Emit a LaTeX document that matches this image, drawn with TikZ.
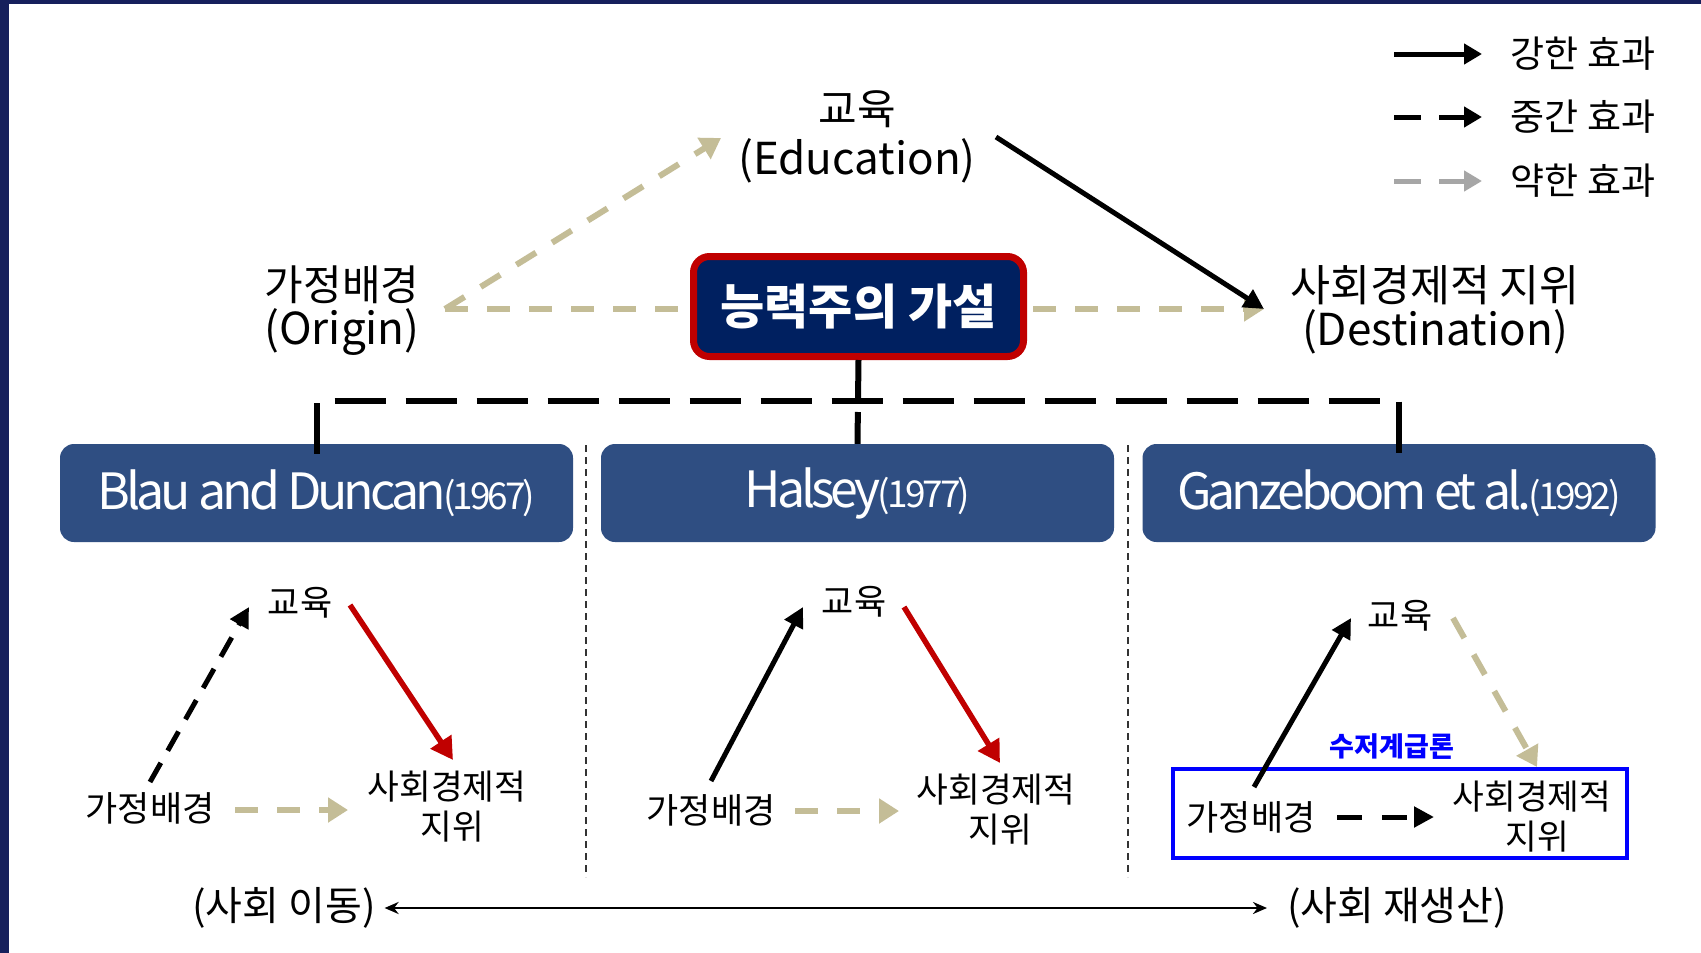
\documentclass[tikz,border=0pt]{standalone}
\usepackage{fontspec}
\setmainfont{Noto Sans CJK KR}
\usetikzlibrary{arrows.meta}
\definecolor{navyband}{RGB}{22,32,92}
\definecolor{boxnavy}{RGB}{0,32,96}
\definecolor{boxred}{RGB}{192,0,0}
\definecolor{titleblue}{RGB}{47,78,130}
\definecolor{weakc}{RGB}{196,189,151}
\definecolor{legendgray}{RGB}{166,166,166}
\definecolor{markblue}{RGB}{0,0,255}
\definecolor{redarrow}{RGB}{192,0,0}
\newcommand{\fsz}[1]{\fontsize{#1}{#1}\selectfont}
\tikzset{
  lbl/.style={inner sep=0pt, outer sep=0pt, align=center, text=black},
  strongarrow/.style={draw=black, line width=5pt, -{Triangle[length=20pt,width=20pt]}},
  midarrow/.style={draw=black, line width=5pt, dash pattern=on 22pt off 14pt, -{Triangle[length=20pt,width=20pt]}},
  weakarrow/.style={draw=weakc, line width=6pt, dash pattern=on 23pt off 19pt, -{Triangle[length=20pt,width=24pt]}},
  redstrong/.style={draw=redarrow, line width=5.5pt, -{Triangle[length=22pt,width=24pt]}},
  titlebox/.style={fill=titleblue, rounded corners=14pt, minimum width=513pt, minimum height=98pt, inner sep=0pt, text=white},
  sepline/.style={draw=black!80, line width=1.5pt, dash pattern=on 7pt off 5pt},
}
\newcommand{\ttl}[2]{{\fsz{50}\addfontfeatures{LetterSpace=-8}#1\kern-3pt\fsz{37}#2}}
\begin{document}
\begin{tikzpicture}[x=1pt,y=-1pt]
\useasboundingbox (0,0) rectangle (1701,953);
\fill[white] (0,0) rectangle (1701,953);
\fill[navyband] (0,0) rectangle (8.5,953);
\fill[navyband] (0,0) rectangle (1701,3.5);

% ---------- legend ----------
\coordinate (lg1a) at (1394,54);  \coordinate (lg1b) at (1482,54);
\coordinate (lg2a) at (1394,117); \coordinate (lg2b) at (1482,117);
\coordinate (lg3a) at (1394,181); \coordinate (lg3b) at (1482,181);
\draw[draw=black, line width=5pt, -{Triangle[length=18pt,width=20pt]}] (lg1a) -- (lg1b);
\draw[draw=black, line width=5pt, dash pattern=on 27pt off 18pt, -{Triangle[length=18pt,width=20pt]}] (lg2a) -- (lg2b);
\draw[draw=legendgray, line width=5pt, dash pattern=on 27pt off 18pt, -{Triangle[length=18pt,width=20pt]}] (lg3a) -- (lg3b);
\node[lbl, font=\fsz{37}] (lgt1) at (1583,54) {강한 효과};
\node[lbl, font=\fsz{37}] (lgt2) at (1583,117) {중간 효과};
\node[lbl, font=\fsz{37}] (lgt3) at (1583,181) {약한 효과};

% ---------- top diagram ----------
\node[lbl, font=\fsz{42}] (edu1) at (857,109) {교육};
\node[lbl, font=\fsz{44}] (edu2) at (857,161) {(Education)};
\node[lbl, font=\fsz{42}] (org1) at (342,285) {가정배경};
\node[lbl, font=\fsz{44}] (org2) at (342,332) {(Origin)};
\node[lbl, font=\fsz{43.5}] (dst1) at (1435,285) {사회경제적 지위};
\node[lbl, font=\fsz{44}] (dst2) at (1435,332) {(Destination)};

\coordinate (oR) at (445,309);
\coordinate (dL) at (1264,309);
\coordinate (eL) at (721,138);
\coordinate (eR) at (996,137);
\draw[weakarrow] (oR) -- (dL);
\draw[weakarrow] (oR) -- (eL);
\draw[strongarrow] (eR) -- (dL);

\node[draw=boxred, line width=7pt, fill=boxnavy, rounded corners=16pt,
      minimum width=330pt, minimum height=100pt, inner sep=0pt,
      text=white, font=\fsz{48}\bfseries] (hyp) at (858.5,306.5) {능력주의 가설};

% ---------- tree ----------
\node[titlebox] (t1) at (316.5,493) {\ttl{Blau and Duncan}{(1967)}};
\node[titlebox] (t2) at (857.5,493) {\ttl{Halsey}{(1977)}};
\node[titlebox] (t3) at (1399,493) {\ttl{Ganzeboom et al.}{(1992)}};

\coordinate (jn) at (858,401);
\coordinate (jl) at (316.5,401);
\coordinate (jr) at (1399,401);
\draw[line width=6pt] (hyp.south) -- (jn);
\draw[line width=6pt, dash pattern=on 51pt off 20pt] ([yshift=-10pt]t1.north) -- (jl) -- (jr) -- ([yshift=-10pt]t3.north);
\draw[line width=6pt, dash pattern=on 51pt off 20pt, dash phase=60pt] (jn) -- (t2.north);

\coordinate (s1a) at (586,445); \coordinate (s1b) at (586,877);
\coordinate (s2a) at (1128,445); \coordinate (s2b) at (1128,877);
\draw[sepline] (s1a) -- (s1b);
\draw[sepline] (s2a) -- (s2b);

% ---------- left small diagram ----------
\node[lbl, font=\fsz{35}] (Ledu) at (300,603) {교육};
\node[lbl, font=\fsz{35}] (Lorg) at (150,808) {가정배경};
\node[lbl, font=\fsz{34.5}] (Ldst1) at (447,787) {사회경제적};
\node[lbl, font=\fsz{34.5}] (Ldst2) at (452,827) {지위};
\coordinate (La1) at (150,782); \coordinate (La2) at (249,607);
\coordinate (Lb1) at (350,605); \coordinate (Lb2) at (453,760);
\coordinate (Lc1) at (235,810); \coordinate (Lc2) at (348,810);
\draw[midarrow] (La1) -- (La2);
\draw[redstrong] (Lb1) -- (Lb2);
\draw[weakarrow] (Lc1) -- (Lc2);

% ---------- middle small diagram ----------
\node[lbl, font=\fsz{35}] (Medu) at (854,602) {교육};
\node[lbl, font=\fsz{35}] (Morg) at (711,810) {가정배경};
\node[lbl, font=\fsz{34.5}] (Mdst1) at (996,790) {사회경제적};
\node[lbl, font=\fsz{34.5}] (Mdst2) at (1000,830) {지위};
\coordinate (Ma1) at (711,781); \coordinate (Ma2) at (803,607);
\coordinate (Mb1) at (904,607); \coordinate (Mb2) at (1000,763);
\coordinate (Mc1) at (795,811); \coordinate (Mc2) at (899,811);
\draw[strongarrow] (Ma1) -- (Ma2);
\draw[redstrong] (Mb1) -- (Mb2);
\draw[weakarrow] (Mc1) -- (Mc2);

% ---------- right small diagram ----------
\draw[draw=markblue, line width=4pt] (1173,769) rectangle (1627,858);
\node[lbl, font=\fsz{27}\bfseries, text=markblue] (Rlab) at (1392,747) {수저계급론};
\node[lbl, font=\fsz{35}] (Redu) at (1400,616) {교육};
\node[lbl, font=\fsz{35}] (Rorg) at (1251,817) {가정배경};
\node[lbl, font=\fsz{34.5}] (Rdst1) at (1532,797) {사회경제적};
\node[lbl, font=\fsz{34.5}] (Rdst2) at (1537,837) {지위};
\coordinate (Ra1) at (1254,787); \coordinate (Ra2) at (1351,618);
\coordinate (Rb1) at (1453,618); \coordinate (Rb2) at (1537,767);
\coordinate (Rc1) at (1337,817); \coordinate (Rc2) at (1434,817);
\draw[strongarrow] (Ra1) -- (Ra2);
\draw[weakarrow] (Rb1) -- (Rb2);
\draw[draw=black, line width=5pt, dash pattern=on 25pt off 20pt, -{Triangle[length=20pt,width=20pt]}] (Rc1) -- (Rc2);

% ---------- bottom ----------
\node[lbl, font=\fsz{40}] (mob) at (284,908) {(사회 이동)};
\node[lbl, font=\fsz{40}] (rep) at (1397,908) {(사회 재생산)};
\draw[line width=2.5pt, {Stealth[length=14pt,width=12pt]}-{Stealth[length=14pt,width=12pt]}]
  ([xshift=9pt]mob.east) -- ([xshift=-20pt]rep.west);
\end{tikzpicture}
\end{document}
